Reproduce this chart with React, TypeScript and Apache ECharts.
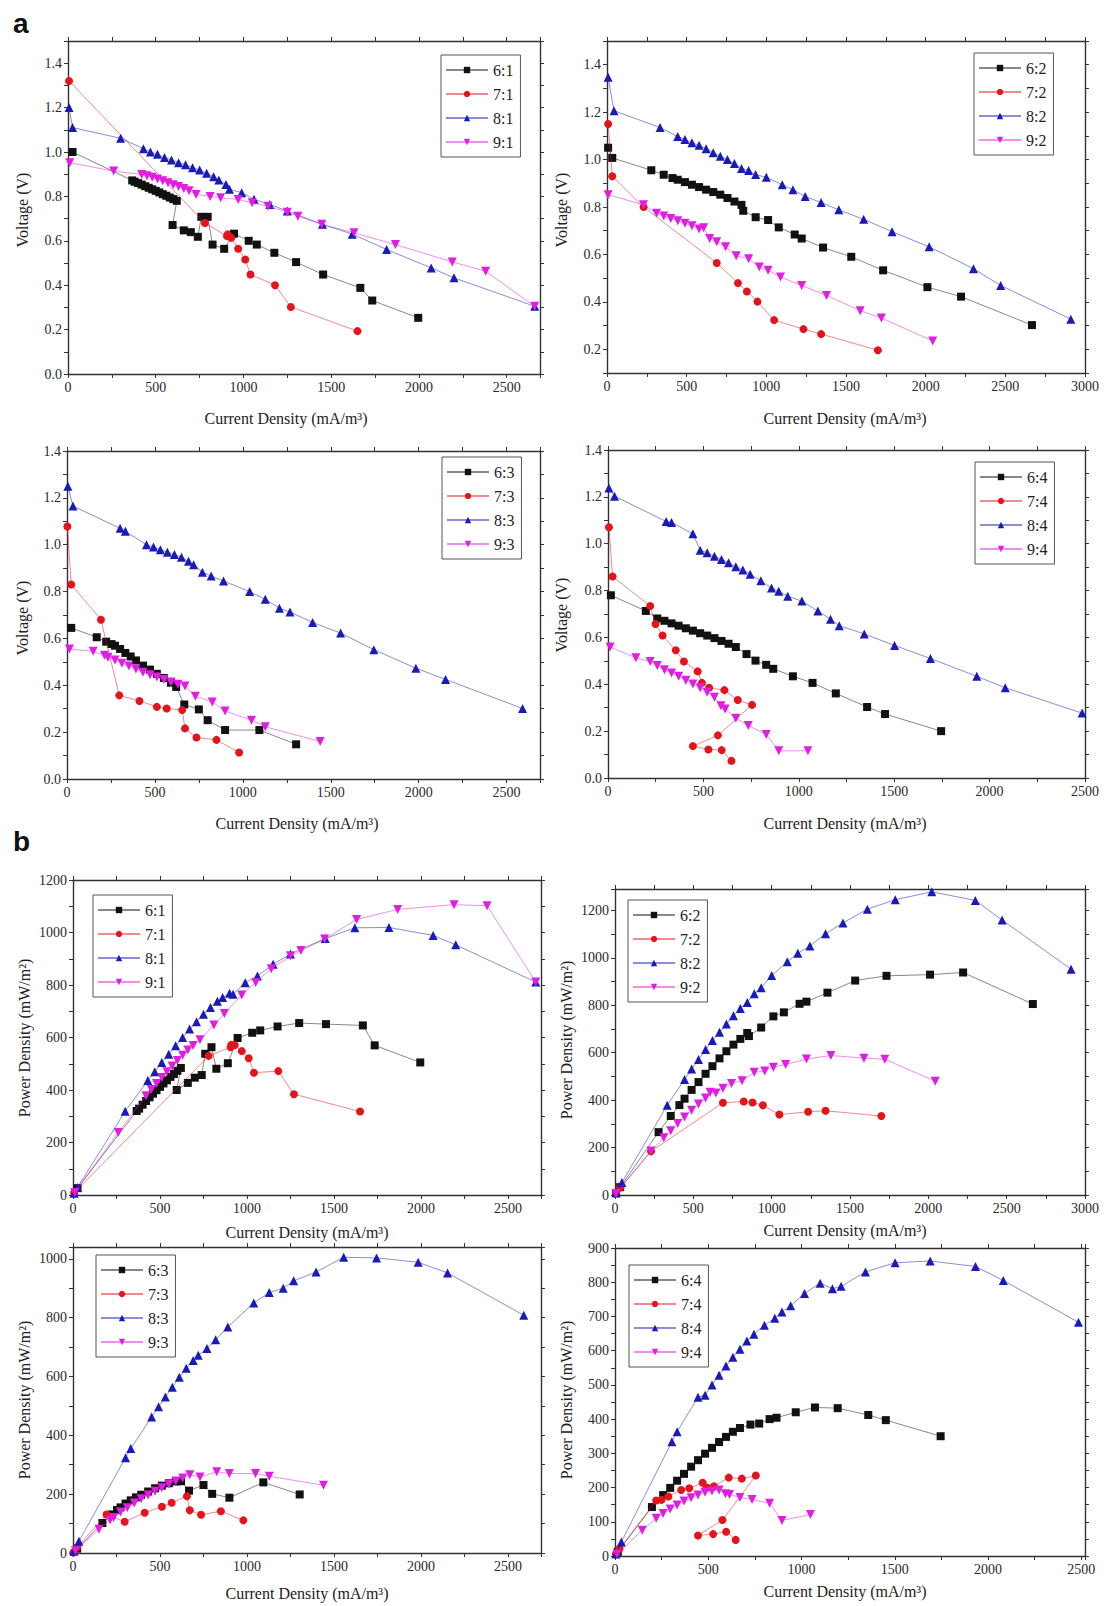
import React, { useEffect, useRef } from 'react';
import * as echarts from 'echarts';

// ---------- data (x: current density mA/m3, y: voltage V or power mW/m2) ----------
const V_61 = [[26,1.0],[366,0.872],[380,0.866],[400,0.860],[420,0.853],[440,0.846],[460,0.839],[480,0.832],[500,0.825],[520,0.818],[540,0.810],[560,0.803],[580,0.795],[600,0.788],[620,0.780],[596,0.671],[660,0.647],[700,0.639],[740,0.618],[760,0.708],[796,0.708],[824,0.583],[890,0.564],[946,0.632],[1030,0.600],[1076,0.583],[1176,0.546],[1300,0.504],[1454,0.448],[1666,0.388],[1734,0.331],[1996,0.253]];
const V_71 = [[6,1.32],[780,0.68],[906,0.621],[910,0.629],[930,0.614],[970,0.564],[1010,0.516],[1040,0.448],[1180,0.400],[1270,0.302],[1650,0.193]];
const V_81 = [[6,1.2],[26,1.11],[300,1.062],[430,1.015],[470,1.0],[510,0.99],[550,0.975],[590,0.964],[630,0.952],[670,0.943],[710,0.929],[750,0.919],[790,0.904],[830,0.889],[860,0.874],[900,0.854],[920,0.832],[990,0.817],[1060,0.787],[1150,0.764],[1250,0.734],[1450,0.674],[1620,0.630],[1816,0.561],[2070,0.478],[2200,0.433],[2660,0.305]];
const V_91 = [[10,0.952],[260,0.914],[420,0.899],[450,0.893],[480,0.886],[510,0.878],[540,0.870],[570,0.862],[600,0.853],[630,0.845],[660,0.836],[690,0.826],[730,0.809],[810,0.800],[870,0.794],[970,0.786],[1050,0.771],[1140,0.756],[1250,0.729],[1310,0.711],[1446,0.674],[1630,0.636],[1866,0.583],[2190,0.505],[2380,0.463],[2660,0.305]];

const V_62 = [[7,1.05],[33,1.007],[278,0.955],[356,0.936],[411,0.922],[444,0.915],[489,0.905],[533,0.894],[578,0.884],[622,0.873],[667,0.863],[711,0.852],[756,0.838],[800,0.823],[844,0.809],[855,0.784],[933,0.757],[1011,0.745],[1078,0.714],[1178,0.684],[1222,0.667],[1356,0.629],[1533,0.590],[1733,0.533],[2011,0.462],[2222,0.422],[2667,0.302]];
const V_72 = [[7,1.15],[33,0.93],[230,0.80],[689,0.564],[822,0.479],[878,0.444],[944,0.401],[1049,0.323],[1233,0.285],[1344,0.264],[1700,0.196]];
const V_82 = [[7,1.347],[44,1.206],[333,1.135],[444,1.097],[489,1.085],[533,1.071],[578,1.06],[622,1.046],[667,1.029],[711,1.014],[756,1.0],[800,0.983],[844,0.962],[889,0.954],[933,0.937],[1000,0.925],[1100,0.894],[1167,0.873],[1244,0.844],[1344,0.819],[1455,0.788],[1611,0.748],[1789,0.696],[2022,0.632],[2300,0.54],[2471,0.469],[2911,0.327]];
const V_92 = [[7,0.852],[229,0.809],[311,0.774],[356,0.762],[400,0.752],[444,0.742],[489,0.731],[533,0.721],[578,0.707],[607,0.713],[644,0.667],[689,0.653],[744,0.632],[811,0.594],[889,0.582],[956,0.547],[1011,0.533],[1089,0.505],[1222,0.469],[1378,0.427],[1589,0.363],[1722,0.332],[2044,0.235]];

const V_63 = [[24,0.645],[169,0.605],[223,0.586],[253,0.576],[273,0.569],[302,0.555],[332,0.538],[362,0.523],[392,0.506],[432,0.484],[472,0.467],[511,0.449],[551,0.431],[591,0.411],[621,0.393],[667,0.318],[750,0.297],[800,0.251],[899,0.209],[1094,0.209],[1303,0.148]];
const V_73 = [[2,1.078],[24,0.83],[193,0.68],[297,0.357],[412,0.333],[511,0.308],[567,0.301],[655,0.294],[671,0.216],[736,0.177],[850,0.167],[979,0.113]];
const V_83 = [[5,1.25],[34,1.165],[302,1.07],[332,1.057],[452,1.0],[492,0.99],[531,0.979],[571,0.968],[611,0.958],[651,0.946],[691,0.929],[720,0.915],[770,0.883],[820,0.866],[890,0.845],[1039,0.8],[1128,0.767],[1208,0.729],[1268,0.713],[1397,0.668],[1556,0.623],[1745,0.552],[1984,0.473],[2153,0.425],[2591,0.301]];
const V_93 = [[14,0.555],[149,0.545],[213,0.528],[233,0.52],[273,0.508],[312,0.494],[352,0.482],[392,0.47],[432,0.456],[472,0.445],[511,0.435],[551,0.425],[591,0.414],[631,0.404],[671,0.397],[730,0.353],[826,0.329],[899,0.29],[1049,0.251],[1128,0.223],[1440,0.16]];

const V_64 = [[15,0.78],[198,0.713],[258,0.681],[296,0.671],[333,0.66],[370,0.65],[408,0.639],[445,0.629],[483,0.618],[520,0.608],[558,0.597],[595,0.585],[632,0.573],[670,0.559],[726,0.529],[773,0.501],[829,0.483],[866,0.466],[969,0.434],[1072,0.406],[1194,0.361],[1358,0.303],[1452,0.273],[1746,0.2]];
const V_74 = [[5,1.07],[24,0.86],[221,0.734],[249,0.657],[286,0.608],[355,0.545],[398,0.497],[470,0.455],[492,0.406],[530,0.385],[610,0.375],[680,0.333],[755,0.312],[576,0.182],[445,0.136],[526,0.122],[596,0.119],[647,0.073]];
const V_84 = [[5,1.238],[34,1.203],[305,1.095],[333,1.091],[445,1.042],[483,0.972],[520,0.961],[558,0.947],[595,0.933],[632,0.919],[670,0.902],[707,0.888],[745,0.870],[801,0.842],[857,0.811],[895,0.797],[942,0.776],[1016,0.755],[1100,0.713],[1166,0.678],[1212,0.65],[1343,0.615],[1502,0.566],[1690,0.51],[1933,0.434],[2082,0.385],[2485,0.277]];
const V_94 = [[11,0.559],[146,0.513],[221,0.497],[258,0.48],[296,0.462],[333,0.448],[370,0.434],[408,0.417],[445,0.401],[483,0.385],[520,0.366],[558,0.345],[592,0.308],[614,0.294],[670,0.255],[735,0.224],[829,0.186],[895,0.116],[1048,0.116]];

const P_61 = [[26,26],[366,320],[380,329],[400,344],[420,358],[440,372],[460,386],[480,399],[500,412],[520,425],[540,437],[560,450],[580,461],[600,473],[620,484],[596,400],[660,427],[700,447],[740,457],[760,538],[796,563],[824,481],[890,502],[946,598],[1030,618],[1076,627],[1176,642],[1300,655],[1454,651],[1666,646],[1734,570],[1996,505]];
const P_71 = [[6,8],[780,530],[906,563],[910,572],[930,571],[970,548],[1010,521],[1040,466],[1180,472],[1270,384],[1650,318]];
const P_81 = [[6,7],[26,29],[300,319],[430,436],[470,470],[510,505],[550,536],[590,569],[630,600],[670,632],[710,660],[750,689],[790,714],[830,738],[860,752],[900,769],[920,765],[990,809],[1060,834],[1150,879],[1250,918],[1450,977],[1620,1018],[1816,1019],[2070,989],[2200,953],[2660,811]];
const P_91 = [[10,10],[260,238],[420,378],[450,402],[480,425],[510,448],[540,470],[570,491],[600,512],[630,532],[660,552],[690,570],[730,591],[810,648],[870,691],[970,762],[1050,810],[1140,862],[1250,911],[1310,931],[1446,975],[1630,1050],[1866,1088],[2190,1106],[2380,1102],[2660,811]];

const P_62 = [[7,7],[33,33],[278,265],[356,333],[411,379],[444,406],[489,443],[533,476],[578,511],[622,543],[667,576],[711,606],[756,634],[800,658],[844,683],[855,670],[933,706],[1011,753],[1078,770],[1178,806],[1222,815],[1356,853],[1533,904],[1733,924],[2011,929],[2222,938],[2667,805]];
const P_72 = [[7,8],[33,31],[230,184],[689,389],[822,394],[878,390],[944,378],[1049,339],[1233,351],[1344,355],[1700,333]];
const P_82 = [[7,9],[44,53],[333,378],[444,487],[489,531],[533,571],[578,613],[622,651],[667,686],[711,721],[756,756],[800,786],[844,812],[889,848],[933,874],[1000,925],[1100,983],[1167,1019],[1244,1050],[1344,1101],[1455,1147],[1611,1205],[1789,1245],[2022,1278],[2300,1242],[2471,1159],[2911,952]];
const P_92 = [[7,6],[229,185],[311,241],[356,271],[400,301],[444,329],[489,357],[533,384],[578,409],[607,433],[644,430],[689,450],[744,470],[811,482],[889,517],[956,523],[1011,539],[1089,550],[1222,573],[1378,588],[1589,577],[1722,572],[2044,480]];

const P_63 = [[24,15],[169,102],[223,131],[253,146],[273,155],[302,168],[332,179],[362,189],[392,198],[432,209],[472,220],[511,229],[551,237],[591,243],[621,244],[667,212],[750,231],[800,201],[899,188],[1094,240],[1303,199]];
const P_73 = [[2,2],[24,20],[193,131],[297,106],[412,137],[511,157],[567,171],[655,193],[671,145],[736,130],[850,142],[979,111]];
const P_83 = [[5,6],[34,40],[302,324],[332,355],[452,462],[492,497],[531,530],[571,563],[611,597],[651,628],[691,654],[720,672],[770,695],[820,725],[890,768],[1039,850],[1128,885],[1208,900],[1268,925],[1397,955],[1556,1005],[1745,1003],[1984,988],[2153,952],[2591,808]];
const P_93 = [[14,8],[149,81],[213,112],[233,121],[273,139],[312,154],[352,170],[392,184],[432,197],[472,210],[511,222],[551,234],[591,245],[631,255],[671,266],[730,258],[826,276],[899,270],[1049,270],[1128,261],[1440,230]];

const P_64 = [[15,12],[198,143],[258,178],[296,199],[333,220],[370,240],[408,261],[445,280],[483,299],[520,316],[558,333],[595,348],[632,363],[670,374],[726,384],[773,387],[829,400],[866,404],[969,420],[1072,434],[1194,432],[1358,412],[1452,397],[1746,350]];
const P_74 = [[5,5],[24,21],[221,162],[249,164],[286,174],[355,193],[398,198],[470,214],[492,200],[530,204],[610,229],[680,226],[755,235],[576,105],[445,60],[526,64],[596,71],[647,47]];
const P_84 = [[5,6],[34,41],[305,334],[333,363],[445,464],[483,470],[520,500],[558,528],[595,555],[632,581],[670,604],[707,628],[745,648],[801,674],[857,695],[895,713],[942,731],[1016,767],[1100,797],[1166,781],[1212,788],[1343,830],[1502,857],[1690,862],[1933,846],[2082,805],[2485,683]];
const P_94 = [[11,6],[146,75],[221,110],[258,124],[296,137],[333,149],[370,161],[408,170],[445,178],[483,186],[520,190],[558,193],[592,182],[614,180],[670,171],[735,165],[829,154],[895,104],[1048,121]];

// series names per panel
const NAMES_1 = ['6:1', '7:1', '8:1', '9:1'];
const NAMES_2 = ['6:2', '7:2', '8:2', '9:2'];
const NAMES_3 = ['6:3', '7:3', '8:3', '9:3'];
const NAMES_4 = ['6:4', '7:4', '8:4', '9:4'];

// axis ranges [min, max, major step]
const X_RANGE_1 = [0, 2690, 500];
const X_RANGE_2 = [0, 3000, 500];
const X_RANGE_4A = [0, 2500, 500];
const X_RANGE_4B = [0, 2520, 500];
const Y_RANGE_A1 = [0, 1.5, 0.2];
const Y_RANGE_A2 = [0.1, 1.5, 0.2];
const Y_RANGE_A34 = [0, 1.4, 0.2];
const Y_RANGE_B1 = [0, 1200, 200];
const Y_RANGE_B2 = [0, 1290, 200];
const Y_RANGE_B3 = [0, 1040, 200];
const Y_RANGE_B4 = [0, 900, 100];

const X_TITLE = 'Current Density (mA/m\u00B3)';
const V_TITLE = 'Voltage (V)';
const P_TITLE = 'Power Density (mW/m\u00B2)';

const COLORS = ['#111111', '#e3141b', '#1a1ab8', '#e21de2'];
const SYMBOLS = ['rect', 'circle', 'triangle', 'path://M0,0L10,0L5,9Z'];
const SIZES = [8, 8, 9, 9];
const SERIF = '"Liberation Serif", "DejaVu Serif", serif';

const PANELS = [
  { grid: { left: 68, top: 41, width: 472, height: 333 }, x: X_RANGE_1, y: Y_RANGE_A1, dec: 1, names: NAMES_1, data: [V_61, V_71, V_81, V_91], legend: [441, 55], xt: [286, 418], yt: [22, 210], yName: V_TITLE },
  { grid: { left: 607, top: 41, width: 478, height: 332 }, x: X_RANGE_2, y: Y_RANGE_A2, dec: 1, names: NAMES_2, data: [V_62, V_72, V_82, V_92], legend: [974, 53], xt: [845, 418], yt: [561, 210], yName: V_TITLE },
  { grid: { left: 67, top: 451, width: 473, height: 328 }, x: X_RANGE_1, y: Y_RANGE_A34, dec: 1, names: NAMES_3, data: [V_63, V_73, V_83, V_93], legend: [442, 457], xt: [297, 823], yt: [22, 618], yName: V_TITLE },
  { grid: { left: 608, top: 450, width: 477, height: 328 }, x: X_RANGE_4A, y: Y_RANGE_A34, dec: 1, names: NAMES_4, data: [V_64, V_74, V_84, V_94], legend: [975, 462], xt: [845, 823], yt: [561, 615], yName: V_TITLE },
  { grid: { left: 73, top: 880, width: 468, height: 315 }, x: X_RANGE_1, y: Y_RANGE_B1, dec: 0, names: NAMES_1, data: [P_61, P_71, P_81, P_91], legend: [93, 895], xt: [307, 1232], yt: [24, 1038], yName: P_TITLE },
  { grid: { left: 615, top: 889, width: 470, height: 306 }, x: X_RANGE_2, y: Y_RANGE_B2, dec: 0, names: NAMES_2, data: [P_62, P_72, P_82, P_92], legend: [628, 900], xt: [845, 1230], yt: [566, 1040], yName: P_TITLE },
  { grid: { left: 73, top: 1247, width: 468, height: 306 }, x: X_RANGE_1, y: Y_RANGE_B3, dec: 0, names: NAMES_3, data: [P_63, P_73, P_83, P_93], legend: [96, 1255], xt: [307, 1593], yt: [24, 1400], yName: P_TITLE },
  { grid: { left: 615, top: 1248, width: 470, height: 308 }, x: X_RANGE_4B, y: Y_RANGE_B4, dec: 0, names: NAMES_4, data: [P_64, P_74, P_84, P_94], legend: [629, 1265], xt: [845, 1591], yt: [566, 1400], yName: P_TITLE },
];

function isMajor(v: number, min: number, step: number) {
  const r = v / step;
  return Math.abs(r - Math.round(r)) < 1e-6 && v >= min - 1e-9;
}

function makeAxis(kind: 'x' | 'y', idx: number, range: number[], dec: number, mirror: boolean) {
  const [min, max, step] = range;
  return {
    type: 'value',
    gridIndex: idx,
    position: kind === 'x' ? (mirror ? 'top' : 'bottom') : (mirror ? 'right' : 'left'),
    min,
    max,
    interval: step / 2,
    splitLine: { show: false },
    axisLine: { show: true, onZero: false, lineStyle: { color: '#333', width: 1.4 } },
    axisTick: { show: true, inside: false, length: 4, lineStyle: { color: '#333', width: 1 } },
    axisLabel: {
      show: !mirror,
      margin: 6,
      fontFamily: SERIF,
      fontSize: 14,
      color: '#2a2a2a',
      formatter: (v: number) => {
        if (!isMajor(v, min, step)) return '';
        return dec ? v.toFixed(dec) : String(Math.round(v));
      },
    },
  };
}

export default function App() {
  const ref = useRef<HTMLDivElement>(null);
  useEffect(() => {
    if (!ref.current) return;
    const chart = echarts.init(ref.current, undefined, { renderer: 'svg' });
    const grids: any[] = [];
    const xAxes: any[] = [];
    const yAxes: any[] = [];
    const series: any[] = [];
    const legends: any[] = [];
    const graphics: any[] = [];
    PANELS.forEach((p, i) => {
      grids.push({ ...p.grid, containLabel: false });
      xAxes.push(makeAxis('x', i, p.x, 0, false));
      yAxes.push(makeAxis('y', i, p.y, p.dec, false));
    });
    PANELS.forEach((p, i) => {
      xAxes.push(makeAxis('x', i, p.x, 0, true));
      yAxes.push(makeAxis('y', i, p.y, p.dec, true));
    });
    PANELS.forEach((p, i) => {
      p.names.forEach((name, k) => {
        series.push({
          type: 'line',
          name,
          xAxisIndex: i,
          yAxisIndex: i,
          data: p.data[k],
          symbol: SYMBOLS[k],
          symbolSize: SIZES[k],
          showSymbol: true,
          clip: true,
          itemStyle: { color: COLORS[k] },
          lineStyle: { color: COLORS[k], width: 1, opacity: 0.5 },
          z: 2 + k,
        });
      });
      legends.push({
        data: p.names,
        orient: 'vertical',
        left: p.legend[0],
        top: p.legend[1],
        padding: [7, 7, 7, 4],
        itemWidth: 42,
        itemHeight: 8,
        itemGap: 8,
        borderColor: '#555',
        borderWidth: 1,
        selectedMode: false,
        textStyle: { fontFamily: SERIF, fontSize: 16, lineHeight: 16, color: '#222' },
      });
      graphics.push({
        type: 'text',
        x: p.xt[0],
        y: p.xt[1],
        style: { text: X_TITLE, fontFamily: SERIF, fontSize: 16, fill: '#222', textAlign: 'center', textVerticalAlign: 'middle' },
      });
      graphics.push({
        type: 'text',
        x: p.yt[0],
        y: p.yt[1],
        rotation: Math.PI / 2,
        style: { text: p.yName, fontFamily: SERIF, fontSize: 16, fill: '#222', textAlign: 'center', textVerticalAlign: 'middle' },
      });
    });
    graphics.push({ type: 'text', left: 13, top: 9, style: { text: 'a', fontFamily: '"Liberation Sans", Arial, sans-serif', fontWeight: 'bold', fontSize: 28, fill: '#111' } });
    graphics.push({ type: 'text', left: 13, top: 827, style: { text: 'b', fontFamily: '"Liberation Sans", Arial, sans-serif', fontWeight: 'bold', fontSize: 28, fill: '#111' } });

    chart.setOption({
      animation: false,
      backgroundColor: '#ffffff',
      grid: grids,
      xAxis: xAxes,
      yAxis: yAxes,
      legend: legends,
      series,
      graphic: graphics,
    });
    return () => chart.dispose();
  }, []);
  return <div ref={ref} style={{ position: 'absolute', left: 0, top: 0, width: 1104, height: 1606, background: '#fff' }} />;
}
